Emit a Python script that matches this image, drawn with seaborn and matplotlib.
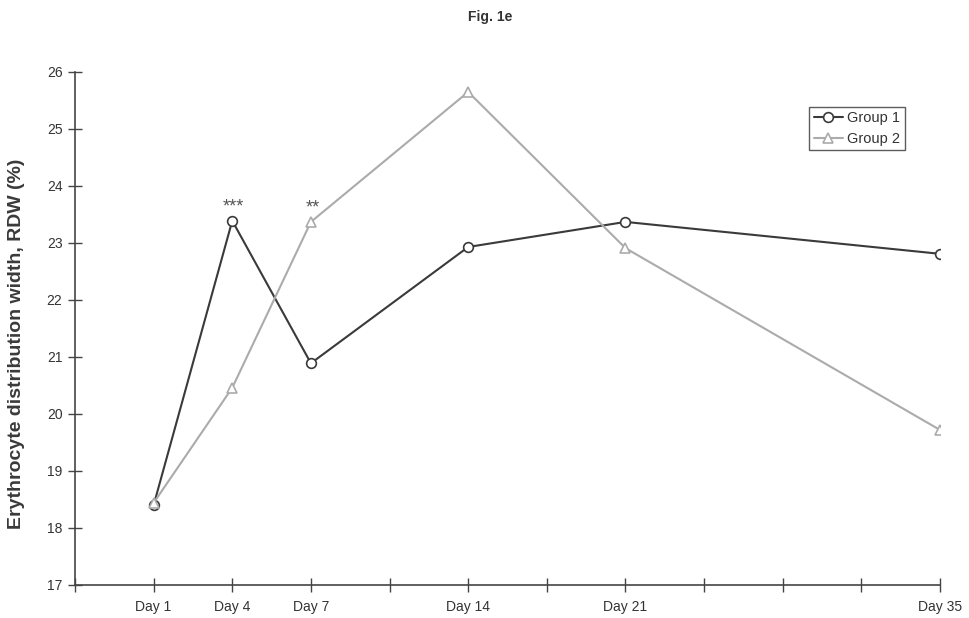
import matplotlib
matplotlib.use("Agg")
import matplotlib.pyplot as plt
import seaborn as sns
import pandas as pd

# Sampling days and their slot on the category axis (11 slots after the origin)
days = ["Day 1", "Day 4", "Day 7", "Day 14", "Day 21", "Day 35"]
slots = [1, 2, 3, 5, 7, 11]

group1 = [18.40, 23.39, 20.89, 22.93, 23.37, 22.81]
group2 = [18.44, 20.46, 23.37, 25.65, 22.91, 19.72]

# Significance marks: (slot, value, label)
sig_slots = [2, 3]
sig_values = [23.39, 23.37]
sig_labels = ["***", "**"]

df = pd.DataFrame({
    "slot": slots * 2,
    "RDW": group1 + group2,
    "Group": ["Group 1"] * len(slots) + ["Group 2"] * len(slots),
})

sns.set_style("white")
plt.rcParams["font.family"] = ["Liberation Sans", "DejaVu Sans"]

fig = plt.figure(figsize=(9.7, 6.18), dpi=100)
ax = fig.add_axes([0.0773, 0.0534, 0.8918, 0.8301])

colors = {"Group 1": "#3a3a3a", "Group 2": "#ababab"}
sns.lineplot(data=df, x="slot", y="RDW", hue="Group", style="Group",
             markers={"Group 1": "o", "Group 2": "^"}, dashes=False,
             palette=colors, linewidth=1.5, markersize=7, legend=False, ax=ax)

for line, name in zip(ax.lines, ["Group 1", "Group 2"]):
    line.set_markerfacecolor("white")
    line.set_markeredgecolor(colors[name])
    line.set_markeredgewidth(1.2)

for s, v, lab in zip(sig_slots, sig_values, sig_labels):
    ax.text(s + 0.02, v + 0.1, lab, ha="center", va="bottom", fontsize=13, color="#555555")

ax.set_xlim(0, 11)
ax.set_ylim(17, 26)
ax.set_xticks(range(0, 12))
ax.set_xticklabels(["" if i not in slots else days[slots.index(i)] for i in range(12)])
ax.set_yticks(range(17, 27))
ax.tick_params(axis="both", direction="inout", length=10, width=1, color="#444444",
               labelsize=10, labelcolor="#333333", bottom=True, left=True)
ax.tick_params(axis="x", pad=6)
ax.tick_params(axis="y", pad=4)

for side in ["top", "right"]:
    ax.spines[side].set_visible(False)
for side in ["left", "bottom"]:
    ax.spines[side].set_color("#444444")
    ax.spines[side].set_linewidth(1.2)

ax.set_xlabel("")
ax.set_ylabel("Erythrocyte distribution width, RDW (%)", fontsize=14,
              fontweight="bold", color="#3a3a3a")
ax.yaxis.set_label_coords(-0.058, 0.47)

leg = ax.legend(ax.lines[:2], ["Group 1", "Group 2"], loc="upper left",
                bbox_to_anchor=(0.849, 0.932), borderaxespad=0, frameon=True,
                fancybox=False, fontsize=10.5, handlelength=2.0, handletextpad=0.3,
                labelspacing=0.45, borderpad=0.3, labelcolor="#333333")
leg.get_frame().set_edgecolor("#333333")
leg.get_frame().set_linewidth(1.0)

fig.text(0.505, 0.972, "Fig. 1e", ha="center", va="center", fontsize=10,
         fontweight="bold", color="#333333")

fig.savefig("out.png", dpi=100)
